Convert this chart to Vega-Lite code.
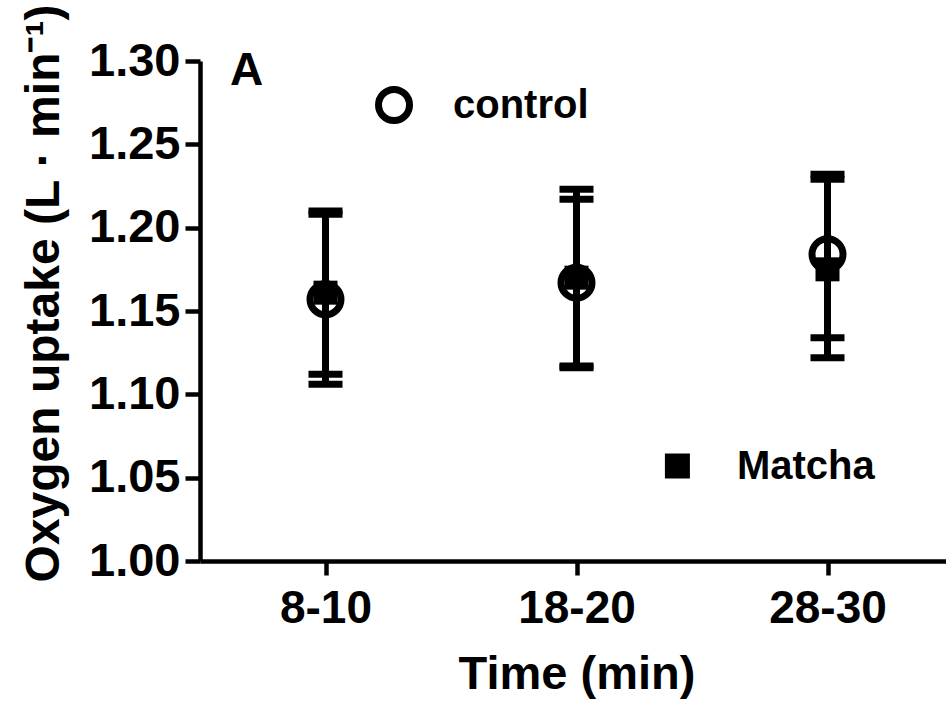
{
  "$schema": "https://vega.github.io/schema/vega-lite/v6.json",
  "width": 746,
  "height": 500,
  "autosize": "none",
  "padding": {"left": 200, "top": 61, "right": 0, "bottom": 143},
  "background": "white",
  "config": {
    "view": {"stroke": null},
    "font": "Liberation Sans",
    "text": {"font": "Liberation Sans"}
  },
  "datasets": {
    "uptake": [
      {"time": "8-10", "t": 1, "group": "control", "mean": 1.157, "lo": 1.106, "hi": 1.208},
      {"time": "8-10", "t": 1, "group": "Matcha", "mean": 1.161, "lo": 1.112, "hi": 1.210},
      {"time": "18-20", "t": 2, "group": "control", "mean": 1.167, "lo": 1.116, "hi": 1.217},
      {"time": "18-20", "t": 2, "group": "Matcha", "mean": 1.170, "lo": 1.117, "hi": 1.223},
      {"time": "28-30", "t": 3, "group": "control", "mean": 1.184, "lo": 1.134, "hi": 1.232},
      {"time": "28-30", "t": 3, "group": "Matcha", "mean": 1.175, "lo": 1.122, "hi": 1.229}
    ],
    "key": [
      {"group": "control", "t": 1.273, "value": 1.2736, "label_t": 1.508, "label_value": 1.2658},
      {"group": "Matcha", "t": 2.402, "value": 1.057, "label_t": 2.639, "label_value": 1.049}
    ],
    "panel": [
      {"label": "A", "t": 0.62, "value": 1.2856}
    ]
  },
  "layer": [
    {
      "data": {"name": "uptake"},
      "mark": {"type": "rule", "color": "black", "strokeWidth": 7, "opacity": 1},
      "encoding": {
        "x": {
          "field": "t",
          "type": "quantitative",
          "scale": {"domain": [0.5, 3.5], "range": [0, 753], "nice": false, "zero": false},
          "axis": {
            "title": "Time (min)",
            "values": [1, 2, 3],
            "labelExpr": "datum.value == 1 ? '8-10' : datum.value == 2 ? '18-20' : '28-30'",
            "grid": false,
            "labelFlush": false,
            "labelOverlap": false,
            "domainColor": "black",
            "domainWidth": 4.5,
            "tickColor": "black",
            "tickWidth": 4.5,
            "tickSize": 14,
            "labelColor": "black",
            "labelFontSize": 46,
            "labelFontWeight": "bold",
            "labelPadding": 11,
            "titleColor": "black",
            "titleFontSize": 47,
            "titleFontWeight": "bold",
            "titleBaseline": "alphabetic",
            "titleY": 127
          }
        },
        "y": {
          "field": "lo",
          "type": "quantitative",
          "scale": {"domain": [1.0, 1.3], "nice": false, "zero": false},
          "axis": {
            "title": "Oxygen uptake (L · min⁻¹)",
            "values": [1.0, 1.05, 1.1, 1.15, 1.2, 1.25, 1.3],
            "format": ".2f",
            "grid": false,
            "labelOverlap": false,
            "labelFlush": false,
            "domainColor": "black",
            "domainWidth": 4.5,
            "tickColor": "black",
            "tickWidth": 4.5,
            "tickSize": 15,
            "labelColor": "black",
            "labelFontSize": 47,
            "labelFontWeight": "bold",
            "labelPadding": 5,
            "titleColor": "black",
            "titleFontSize": 48,
            "titleFontWeight": "bold",
            "titleAngle": -90,
            "titleAlign": "center",
            "titleBaseline": "alphabetic",
            "titleX": -142,
            "titleY": 232
          }
        },
        "y2": {"field": "hi"}
      }
    },
    {
      "data": {"name": "uptake"},
      "mark": {"type": "tick", "orient": "horizontal", "color": "black", "size": 34, "thickness": 7, "opacity": 1},
      "encoding": {
        "x": {"field": "t", "type": "quantitative"},
        "y": {"field": "lo", "type": "quantitative"}
      }
    },
    {
      "data": {"name": "uptake"},
      "mark": {"type": "tick", "orient": "horizontal", "color": "black", "size": 34, "thickness": 7, "opacity": 1},
      "encoding": {
        "x": {"field": "t", "type": "quantitative"},
        "y": {"field": "hi", "type": "quantitative"}
      }
    },
    {
      "data": {"name": "uptake"},
      "transform": [{"filter": "datum.group == 'control'"}],
      "mark": {"type": "point", "shape": "circle", "filled": false, "color": "black", "strokeWidth": 7, "size": 961, "opacity": 1},
      "encoding": {
        "x": {"field": "t", "type": "quantitative"},
        "y": {"field": "mean", "type": "quantitative"}
      }
    },
    {
      "data": {"name": "uptake"},
      "transform": [{"filter": "datum.group == 'Matcha'"}],
      "mark": {"type": "square", "color": "black", "size": 576, "opacity": 1},
      "encoding": {
        "x": {"field": "t", "type": "quantitative"},
        "y": {"field": "mean", "type": "quantitative"}
      }
    },
    {
      "data": {"name": "key"},
      "transform": [{"filter": "datum.group == 'control'"}],
      "mark": {"type": "point", "shape": "circle", "filled": false, "color": "black", "strokeWidth": 7, "size": 961, "opacity": 1},
      "encoding": {
        "x": {"field": "t", "type": "quantitative"},
        "y": {"field": "value", "type": "quantitative"}
      }
    },
    {
      "data": {"name": "key"},
      "transform": [{"filter": "datum.group == 'Matcha'"}],
      "mark": {"type": "square", "color": "black", "size": 625, "opacity": 1},
      "encoding": {
        "x": {"field": "t", "type": "quantitative"},
        "y": {"field": "value", "type": "quantitative"}
      }
    },
    {
      "data": {"name": "key"},
      "mark": {"type": "text", "align": "left", "baseline": "alphabetic", "fontSize": 40, "fontWeight": "bold", "color": "black"},
      "encoding": {
        "x": {"field": "label_t", "type": "quantitative"},
        "y": {"field": "label_value", "type": "quantitative"},
        "text": {"field": "group"}
      }
    },
    {
      "data": {"name": "panel"},
      "mark": {"type": "text", "align": "left", "baseline": "alphabetic", "fontSize": 46, "fontWeight": "bold", "color": "black"},
      "encoding": {
        "x": {"field": "t", "type": "quantitative"},
        "y": {"field": "value", "type": "quantitative"},
        "text": {"field": "label"}
      }
    }
  ]
}
